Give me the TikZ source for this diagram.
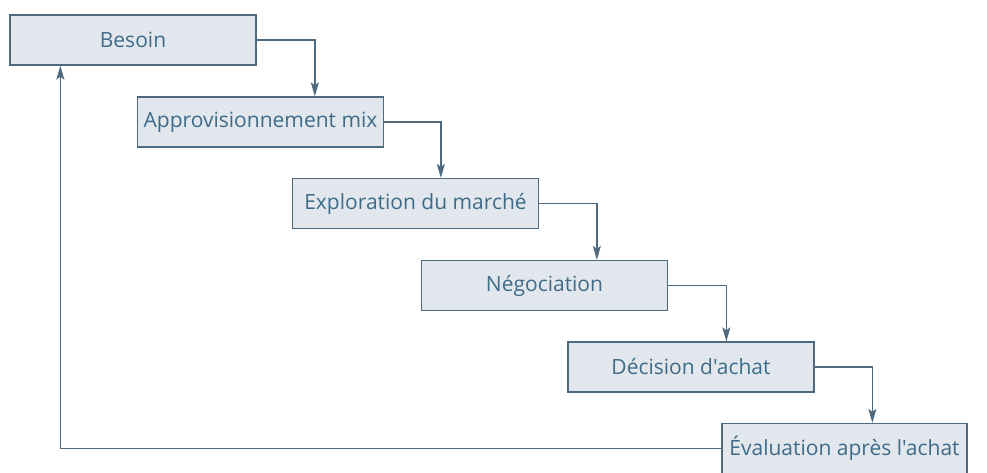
\documentclass[tikz,border=0pt]{standalone}
\usepackage{fontspec}
\setmainfont{Open Sans}[Ligatures=TeXOff]
\usetikzlibrary{arrows.meta}
\definecolor{txtc}{HTML}{3E6C88}
\definecolor{boxfill}{HTML}{E2E7EE}
\definecolor{linec}{HTML}{4F6A7E}
\tikzset{
  stepbox/.style={draw=linec, line width=1.3pt, fill=boxfill, minimum width=246pt,
    minimum height=50pt, inner sep=0pt, text=txtc, font=\fontsize{21}{24}\selectfont},
  arr/.style={draw=linec, line width=1.3pt, -{Stealth[length=14pt,width=8pt,inset=3pt]}}
}
\begin{document}
\begin{tikzpicture}[x=1pt,y=-1pt]
\useasboundingbox[fill=white] (0,0) rectangle (987,472);
\node[stepbox] (b1) at (133,40) {Besoin};
\node[stepbox] (b2) at (260.5,122) {Approvisionnement mix};
\node[stepbox] (b3) at (415.5,203.5) {Exploration du marché};
\node[stepbox] (b4) at (544.5,285.5) {Négociation};
\node[stepbox] (b5) at (691,367) {Décision d'achat};
\node[stepbox, minimum width=245pt] (b6) at (844.5,448.5) {Évaluation après l'achat};
\draw[arr] (b1.east) -| ([xshift=178pt]b2.north west);
\draw[arr] (b2.east) -| ([xshift=149pt]b3.north west);
\draw[arr] (b3.east) -| ([xshift=176pt]b4.north west);
\draw[arr] (b4.east) -| ([xshift=159pt]b5.north west);
\draw[arr] (b5.east) -| ([xshift=151pt]b6.north west);
\draw[arr] (b6.west) -| ([xshift=51pt]b1.south west);
\end{tikzpicture}
\end{document}
